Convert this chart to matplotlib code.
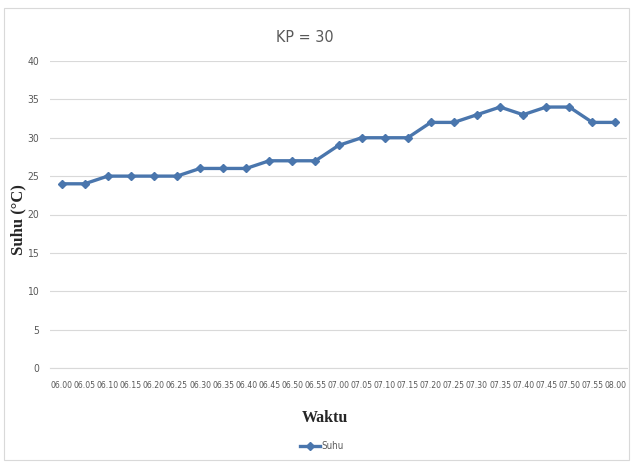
import matplotlib
matplotlib.use("Agg")
import matplotlib.pyplot as plt
from matplotlib.patches import Rectangle
from matplotlib.lines import Line2D

waktu = ["06.00", "06.05", "06.10", "06.15", "06.20", "06.25", "06.30", "06.35",
         "06.40", "06.45", "06.50", "06.55", "07.00", "07.05", "07.10", "07.15",
         "07.20", "07.25", "07.30", "07.35", "07.40", "07.45", "07.50", "07.55", "08.00"]
suhu = [24, 24, 25, 25, 25, 25, 26, 26, 26, 27, 27, 27, 29, 30, 30, 30,
        32, 32, 33, 34, 33, 34, 34, 32, 32]
y_ticks = [0, 5, 10, 15, 20, 25, 30, 35, 40]

narrow = ["DejaVu Sans"]
serif = ["Liberation Serif", "DejaVu Serif"]
blue = "#4a76ad"
grey_text = "#595959"

fig = plt.figure(figsize=(6.34, 4.68), dpi=100)
fig.patches.append(Rectangle((4 / 634, 1 - 460 / 468), 625 / 634, 452 / 468,
                             transform=fig.transFigure, fill=False,
                             edgecolor="#d9d9d9", linewidth=0.8))

ax = fig.add_axes([50 / 634, 100 / 468, 577 / 634, 307 / 468])
x = list(range(len(waktu)))
ax.plot(x, suhu, color=blue, linewidth=2.4, marker="D", markersize=4,
        markerfacecolor=blue, markeredgecolor=blue, zorder=3)

ax.set_xlim(-0.5, len(waktu) - 0.5)
ax.set_ylim(0, 40)
ax.set_yticks(y_ticks)
ax.set_xticks(x)
ax.set_xticklabels(waktu)
ax.grid(axis="y", color="#d9d9d9", linewidth=0.8)
ax.set_axisbelow(True)
for s in ["top", "right", "left"]:
    ax.spines[s].set_visible(False)
ax.spines["bottom"].set_color("#d9d9d9")
ax.spines["bottom"].set_linewidth(0.8)
ax.tick_params(axis="both", length=0, colors=grey_text)
ax.tick_params(axis="x", pad=9)
ax.tick_params(axis="y", pad=8)
for lab in ax.get_xticklabels():
    lab.set_family(narrow)
    lab.set_stretch("condensed")
    lab.set_fontsize(6.2)
for lab in ax.get_yticklabels():
    lab.set_family(narrow)
    lab.set_stretch("condensed")
    lab.set_fontsize(7.5)

fig.text(305 / 634, 1 - 37 / 468, "KP = 30", family=narrow, stretch="condensed",
         fontsize=11.5, color=grey_text, ha="center", va="center")
fig.text(325 / 634, 1 - 418 / 468, "Waktu", family=serif, fontsize=11.5,
         fontweight="bold", color="#262626", ha="center", va="center")
fig.text(18 / 634, 1 - 220 / 468, "Suhu (°C)", family=serif, fontsize=12,
         fontweight="bold", color="#262626", ha="center", va="center",
         rotation=90)

handle = Line2D([], [], color=blue, linewidth=2.4, marker="D", markersize=4)
fig.legend([handle], ["Suhu"], loc="center", bbox_to_anchor=(322 / 634, 1 - 446 / 468),
           frameon=False, prop={"family": narrow, "stretch": "condensed", "size": 7},
           handlelength=2.0, handletextpad=0.15, labelcolor=grey_text)

fig.savefig("out.png", dpi=100, facecolor="white")
